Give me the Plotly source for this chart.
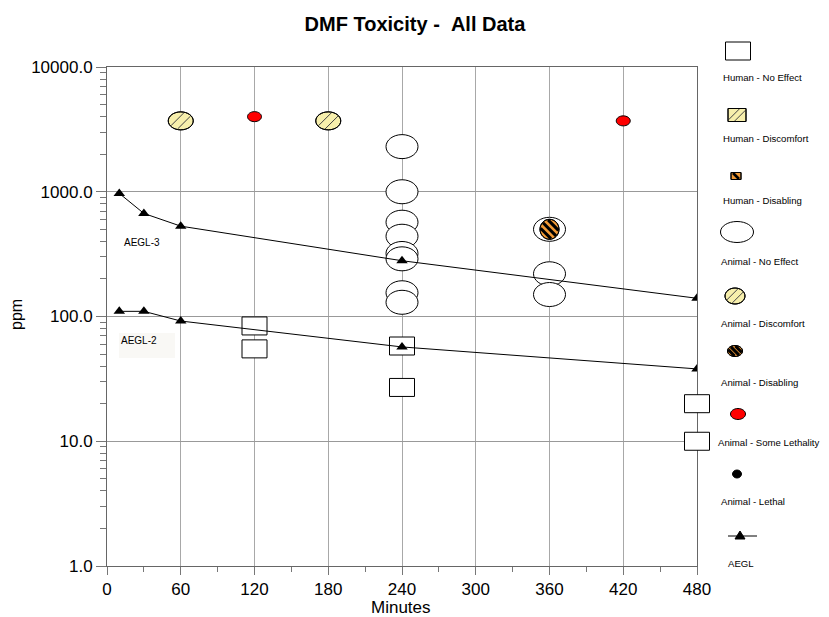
import numpy as np
import plotly.graph_objects as go

# ---------------- data ----------------
human_noeffect_x = [120, 120, 240, 240, 480, 480]
human_noeffect_y = [84, 55, 58, 27, 20, 10]

animal_noeffect_x = [240, 240, 240, 240, 240, 240, 240, 240, 360, 360, 360]
animal_noeffect_y = [2300, 1000, 570, 440, 320, 290, 155, 130, 500, 220, 150]

animal_discomfort_x = [60, 180]
animal_discomfort_y = [3700, 3700]

animal_disabling_x = [360]
animal_disabling_y = [500]

animal_lethality_x = [120, 420]
animal_lethality_y = [4000, 3700]

aegl_x = [10, 30, 60, 240, 480]
aegl3_y = [970, 670, 530, 280, 140]
aegl2_y = [110, 110, 92, 57, 38]

x_ticks = [0, 60, 120, 180, 240, 300, 360, 420, 480]
x_minor = [30, 90, 150, 210, 270, 330, 390, 450]
y_ticks = [1, 10, 100, 1000, 10000]
y_minor = [2, 3, 4, 5, 6, 7, 8, 9, 20, 30, 40, 50, 60, 70, 80, 90,
           200, 300, 400, 500, 600, 700, 800, 900, 2000, 3000, 4000, 5000, 6000, 7000, 8000, 9000]

legend_labels = ["Human - No Effect", "Human - Discomfort", "Human - Disabling",
                 "Animal - No Effect", "Animal - Discomfort", "Animal - Disabling",
                 "Animal - Some Lethality", "Animal - Lethal", "AEGL"]

X_RANGE = [0, 480]

# ---------------- layout geometry (page pixels) ----------------
PAGE_W, PAGE_H = 829, 617
OFF = 8                      # default body margin of the html page
W, H = PAGE_W - OFF, PAGE_H - OFF
L, R, T, B = 107, 697, 67, 566   # plot area in page pixels
FONT = "Liberation Sans, Arial, sans-serif"


def px(X):
    return (X - L) / (R - L)


def py(Y):
    return (B - Y) / (B - T)


YELLOW = "#f7efac"
ORANGE = "#f29a36"

STYLES = {
    "h_noeffect": dict(kind="rect", fill="white", stripes=None),
    "h_discomfort": dict(kind="rect", fill=YELLOW, stripes=("/", 1.0, "#444")),
    "h_disabling": dict(kind="rect", fill=ORANGE, stripes=("\\", 2.6, "black")),
    "a_noeffect": dict(kind="ellipse", fill="white", stripes=None),
    "a_discomfort": dict(kind="ellipse", fill=YELLOW, stripes=("/", 1.0, "#444")),
    "a_disabling": dict(kind="ellipse", fill=ORANGE, stripes=("\\", 3.0, "black")),
    "a_lethality": dict(kind="ellipse", fill="#ff0000", stripes=None),
    "a_lethal": dict(kind="ellipse", fill="black", stripes=None),
}

KAPPA = 0.5523


def outline_path(kind, a, b):
    if kind == "rect":
        return f"M{-a},{-b} L{a},{-b} L{a},{b} L{-a},{b} Z"
    ka, kb = KAPPA * a, KAPPA * b
    return (f"M{a},0 C{a},{kb} {ka},{b} 0,{b} C{-ka},{b} {-a},{kb} {-a},0 "
            f"C{-a},{-kb} {-ka},{-b} 0,{-b} C{ka},{-b} {a},{-kb} {a},0 Z")


def chord(kind, a, b, d, p0):
    """Clip the line p0 + t*d to an ellipse/rect of half sizes a, b."""
    if kind == "ellipse":
        A = (d[0] / a) ** 2 + (d[1] / b) ** 2
        Bq = 2 * (p0[0] * d[0] / a ** 2 + p0[1] * d[1] / b ** 2)
        C = (p0[0] / a) ** 2 + (p0[1] / b) ** 2 - 1
        disc = Bq * Bq - 4 * A * C
        if disc <= 0:
            return None
        t1 = (-Bq - np.sqrt(disc)) / (2 * A)
        t2 = (-Bq + np.sqrt(disc)) / (2 * A)
    else:
        t1, t2 = -1e9, 1e9
        for k, lim in ((0, a), (1, b)):
            if abs(d[k]) < 1e-12:
                if abs(p0[k]) > lim:
                    return None
                continue
            ta = (-lim - p0[k]) / d[k]
            tb = (lim - p0[k]) / d[k]
            t1 = max(t1, min(ta, tb))
            t2 = min(t2, max(ta, tb))
        if t2 <= t1:
            return None
    return (p0[0] + t1 * d[0], p0[1] + t1 * d[1]), (p0[0] + t2 * d[0], p0[1] + t2 * d[1])


def marker_shapes(style, x, y, w, h, xref="x", yref="y", layer="between", offsets=None):
    st = STYLES[style]
    if xref == "x" and x in X_RANGE:
        # marks sitting on the frame edge must overhang it (axis-referenced shapes get clipped)
        xref, x, layer = "x domain", (x - X_RANGE[0]) / (X_RANGE[1] - X_RANGE[0]), "above"
    base = dict(type="path", xref=xref, yref=yref, xsizemode="pixel", ysizemode="pixel",
                xanchor=x, yanchor=y, layer=layer)
    a, b = w / 2, h / 2
    shp = outline_path(st["kind"], a, b)
    out = [dict(path=shp, fillcolor=st["fill"], line=dict(color="black", width=1), **base)]
    if st["stripes"] is not None:
        direction, lw, col = st["stripes"]
        d = np.array([1.0, 1.0]) / np.sqrt(2) if direction == "/" else np.array([1.0, -1.0]) / np.sqrt(2)
        n = np.array([-d[1], d[0]])
        segs = []
        for s in offsets:
            c = chord(st["kind"], a - 0.5, b - 0.5, d, n * s)
            if c is not None:
                (x1, y1), (x2, y2) = c
                segs.append(f"M{x1:.2f},{y1:.2f} L{x2:.2f},{y2:.2f}")
        if segs:
            out.append(dict(path=" ".join(segs), line=dict(color=col, width=lw), **base))
        out.append(dict(path=shp, fillcolor="rgba(0,0,0,0)",
                        line=dict(color="black", width=1), **base))
    return out


shapes = []
# AEGL-2 label background
shapes.append(dict(type="rect", xref="paper", yref="paper", x0=px(119), x1=px(175),
                   y0=py(358), y1=py(333), fillcolor="#f9f8f5", line=dict(width=0), layer="below"))

for xv, yv in zip(human_noeffect_x, human_noeffect_y):
    shapes += marker_shapes("h_noeffect", xv, yv, 25, 18)
for xv, yv in zip(animal_noeffect_x, animal_noeffect_y):
    shapes += marker_shapes("a_noeffect", xv, yv, 32, 24)
for xv, yv in zip(animal_discomfort_x, animal_discomfort_y):
    shapes += marker_shapes("a_discomfort", xv, yv, 25, 18, offsets=[-3.5, 3.5])
for xv, yv in zip(animal_disabling_x, animal_disabling_y):
    shapes += marker_shapes("a_disabling", xv, yv, 19, 20, offsets=[-5.6, 0, 5.6])
for xv, yv in zip(animal_lethality_x, animal_lethality_y):
    shapes += marker_shapes("a_lethality", xv, yv, 14, 10)

# ---------------- custom legend (symbols above labels) ----------------
leg_sym = [
    ("h_noeffect", 738, 51, 25, 18, None),
    ("h_discomfort", 737, 115, 18, 13, [-2.6, 2.6]),
    ("h_disabling", 736, 176, 10, 7, [0]),
    ("a_noeffect", 737, 232, 33, 21, None),
    ("a_discomfort", 735, 296, 20, 16, [-3, 3]),
    ("a_disabling", 735, 351, 15, 11, [-3.8, 0, 3.8]),
    ("a_lethality", 738, 414, 15, 11, None),
    ("a_lethal", 737, 474, 9, 8, None),
]
for style, X, Y, w, h, offs in leg_sym:
    shapes += marker_shapes(style, px(X), py(Y), w, h, xref="paper", yref="paper",
                            layer="above", offsets=offs)
# AEGL legend symbol: line with triangle
shapes.append(dict(type="line", xref="paper", yref="paper", x0=px(728), x1=px(757),
                   y0=py(536), y1=py(536), line=dict(color="black", width=1), layer="above"))
shapes.append(dict(type="path", xref="paper", yref="paper", xsizemode="pixel", ysizemode="pixel",
                   xanchor=px(740), yanchor=py(535), path="M-5,-4 L5,-4 L0,4 Z",
                   fillcolor="black", line=dict(color="black", width=1), layer="above"))

leg_text_y = [77, 138, 200, 261, 323, 382, 442, 501, 563]
leg_text_x = [721, 721, 721, 719, 719, 719, 716, 719, 726]

annotations = []
for txt, X, Y in zip(legend_labels, leg_text_x, leg_text_y):
    annotations.append(dict(text=txt, xref="paper", yref="paper", x=px(X), y=py(Y),
                            xanchor="left", yanchor="middle", showarrow=False,
                            font=dict(family=FONT, size=9.6, color="black")))

annotations.append(dict(text="AEGL-3", xref="paper", yref="paper", x=px(122), y=py(242),
                        xanchor="left", yanchor="middle", showarrow=False,
                        font=dict(family=FONT, size=10, color="black")))
annotations.append(dict(text="AEGL-2", xref="paper", yref="paper", x=px(119), y=py(340),
                        xanchor="left", yanchor="middle", showarrow=False,
                        font=dict(family=FONT, size=10, color="black")))
annotations.append(dict(text="Minutes", xref="paper", yref="paper", x=px(401), y=py(607),
                        xanchor="center", yanchor="middle", showarrow=False,
                        font=dict(family=FONT, size=17, color="black")))
annotations.append(dict(text="ppm", xref="paper", yref="paper", x=px(16), y=py(315),
                        xanchor="center", yanchor="middle", showarrow=False, textangle=-90,
                        font=dict(family=FONT, size=16, color="black")))

fig = go.Figure()
for yv in (aegl3_y, aegl2_y):
    fig.add_trace(go.Scatter(x=aegl_x, y=yv, mode="lines+markers",
                             line=dict(color="black", width=1),
                             marker=dict(symbol="triangle-up", size=10, color="black"),
                             showlegend=False, hoverinfo="x+y"))

fig.update_layout(
    width=W, height=H,
    margin=dict(l=L - OFF, r=PAGE_W - R, t=T - OFF, b=PAGE_H - B, pad=0, autoexpand=False),
    paper_bgcolor="white", plot_bgcolor="white",
    font=dict(family=FONT, size=17, color="black"),
    title=dict(text="<b>DMF Toxicity - \u00a0All Data</b>", x=(415 - OFF) / W, xref="container",
               y=1 - (24 - OFF) / H, yref="container", xanchor="center", yanchor="middle",
               font=dict(family=FONT, size=20, color="black")),
    showlegend=False,
    shapes=shapes,
    annotations=annotations,
)
fig.update_xaxes(range=X_RANGE, tickvals=x_ticks, ticks="outside", ticklen=8,
                 tickcolor="#777", showgrid=True, gridcolor="#a8a8a8", gridwidth=1,
                 showline=True, linecolor="#666", linewidth=1, mirror=True, zeroline=False,
                 tickfont=dict(size=17), ticklabelstandoff=0,
                 minor=dict(tickvals=x_minor, ticks="outside", ticklen=5, tickcolor="#777",
                            showgrid=False))
fig.update_yaxes(type="log", range=[0, 4], tickvals=y_ticks, tickformat=".1f",
                 ticks="outside", ticklen=10, tickcolor="#777",
                 showgrid=True, gridcolor="#999", gridwidth=1,
                 showline=True, linecolor="#666", linewidth=1, mirror=True, zeroline=False,
                 tickfont=dict(size=17),
                 minor=dict(tickvals=y_minor, ticks="outside", ticklen=6, tickcolor="#777",
                            showgrid=False))

fig.write_html("out.html")
